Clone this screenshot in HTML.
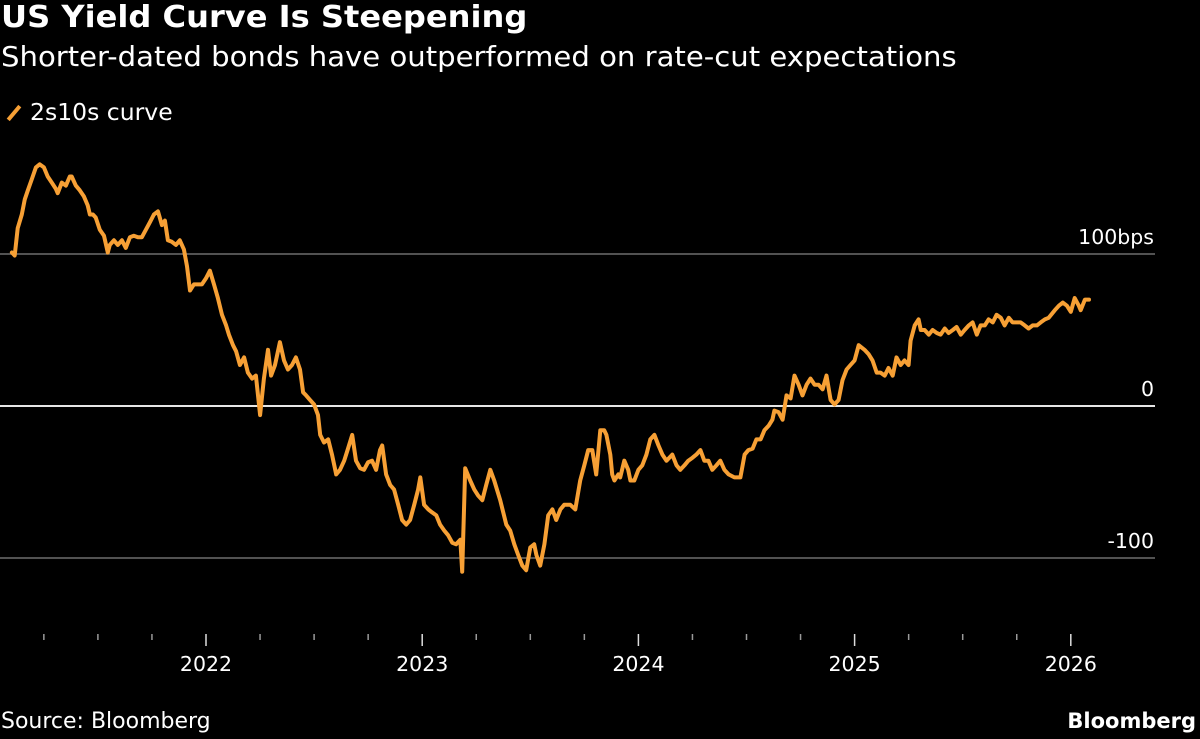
<!DOCTYPE html>
<html><head><meta charset="utf-8"><style>
html,body{margin:0;padding:0;background:#000;width:1200px;height:739px;overflow:hidden}
body{font-family:"DejaVu Sans","Liberation Sans",sans-serif;color:#fff;position:relative}
.t{position:absolute;white-space:nowrap;line-height:1}
</style></head><body>
<div class="t" style="left:1px;top:3px;font-size:30px;font-weight:bold;transform:scaleX(1.07);transform-origin:0 0">US Yield Curve Is Steepening</div>
<div class="t" style="left:1px;top:43px;font-size:28px;transform:scaleX(1.04);transform-origin:0 0">Shorter-dated bonds have outperformed on rate-cut expectations</div>
<div class="t" style="left:4px;top:101px;font-size:23.5px"><span style="display:inline-block;width:4px;height:18px;background:#f7a035;transform:rotate(40deg);margin:0 14px 0 8px;vertical-align:-2px"></span>2s10s curve</div>
<svg id="chart" width="1200" height="739" style="position:absolute;left:0;top:0"></svg>
<div class="t" style="left:1px;top:711px;font-size:22px">Source: Bloomberg</div>
<div class="t" style="right:4px;top:711px;font-size:21px;font-weight:bold">Bloomberg</div>
<script>
const dates=[2021.102,2021.115,2021.129,2021.148,2021.162,2021.176,2021.194,2021.213,2021.231,2021.250,2021.268,2021.287,2021.305,2021.314,2021.333,2021.352,2021.370,2021.379,2021.398,2021.416,2021.435,2021.453,2021.463,2021.477,2021.490,2021.509,2021.528,2021.546,2021.555,2021.574,2021.592,2021.611,2021.629,2021.648,2021.666,2021.685,2021.703,2021.722,2021.741,2021.759,2021.778,2021.796,2021.810,2021.824,2021.842,2021.861,2021.879,2021.898,2021.912,2021.926,2021.944,2021.963,2021.981,2022.000,2022.018,2022.037,2022.055,2022.074,2022.093,2022.106,2022.125,2022.139,2022.157,2022.176,2022.194,2022.213,2022.231,2022.250,2022.268,2022.287,2022.301,2022.319,2022.342,2022.361,2022.379,2022.398,2022.416,2022.435,2022.449,2022.463,2022.481,2022.500,2022.518,2022.528,2022.546,2022.565,2022.583,2022.602,2022.620,2022.639,2022.657,2022.676,2022.694,2022.713,2022.731,2022.750,2022.768,2022.787,2022.805,2022.815,2022.833,2022.852,2022.870,2022.889,2022.907,2022.926,2022.944,2022.963,2022.981,2022.991,2023.009,2023.028,2023.046,2023.065,2023.083,2023.102,2023.120,2023.139,2023.157,2023.176,2023.185,2023.199,2023.222,2023.241,2023.259,2023.278,2023.296,2023.315,2023.333,2023.361,2023.389,2023.407,2023.426,2023.444,2023.463,2023.481,2023.500,2023.518,2023.528,2023.546,2023.565,2023.583,2023.602,2023.620,2023.639,2023.657,2023.685,2023.708,2023.731,2023.750,2023.768,2023.787,2023.805,2023.824,2023.842,2023.852,2023.870,2023.879,2023.889,2023.907,2023.916,2023.935,2023.953,2023.963,2023.981,2024.000,2024.018,2024.037,2024.055,2024.074,2024.093,2024.111,2024.130,2024.157,2024.176,2024.194,2024.213,2024.231,2024.250,2024.268,2024.287,2024.305,2024.324,2024.342,2024.361,2024.379,2024.398,2024.417,2024.444,2024.472,2024.491,2024.509,2024.528,2024.546,2024.565,2024.583,2024.602,2024.620,2024.629,2024.648,2024.667,2024.685,2024.704,2024.722,2024.741,2024.759,2024.778,2024.796,2024.815,2024.833,2024.852,2024.870,2024.889,2024.907,2024.926,2024.944,2024.963,2024.981,2025.000,2025.019,2025.046,2025.065,2025.083,2025.102,2025.120,2025.139,2025.157,2025.176,2025.194,2025.213,2025.231,2025.250,2025.259,2025.278,2025.296,2025.306,2025.324,2025.343,2025.361,2025.380,2025.398,2025.417,2025.435,2025.454,2025.472,2025.491,2025.509,2025.528,2025.546,2025.565,2025.583,2025.602,2025.620,2025.639,2025.657,2025.676,2025.694,2025.713,2025.731,2025.750,2025.768,2025.787,2025.805,2025.824,2025.843,2025.861,2025.880,2025.898,2025.926,2025.945,2025.963,2025.982,2026.000,2026.018,2026.037,2026.046,2026.065,2026.084];
const spread=[101,99,117,126,136,142,149,157,159,157,151,147,143,140,147,145,151,151,145,142,138,132,126,126,124,116,112,101,106,109,106,109,104,111,112,111,111,116,121,126,128,119,122,109,108,106,109,103,92,76,80,80,80,84,89,80,71,60,53,47,40,36,27,32,22,18,20,-6,18,37,20,27,42,30,24,27,32,24,9,7,4,1,-6,-19,-24,-22,-32,-45,-42,-36,-28,-19,-36,-41,-42,-37,-36,-42,-29,-26,-45,-52,-55,-65,-75,-78,-75,-65,-55,-47,-65,-68,-70,-72,-78,-82,-85,-90,-91,-88,-109,-41,-49,-55,-59,-62,-52,-42,-49,-62,-78,-82,-91,-98,-105,-108,-93,-91,-98,-105,-91,-72,-68,-75,-68,-65,-65,-68,-49,-39,-29,-29,-45,-16,-16,-19,-32,-45,-49,-45,-47,-36,-42,-49,-49,-42,-39,-32,-22,-19,-26,-32,-36,-32,-39,-42,-39,-36,-34,-32,-29,-36,-36,-42,-39,-36,-42,-45,-47,-47,-32,-29,-28,-22,-22,-16,-13,-9,-3,-4,-9,7,5,20,14,7,14,18,14,14,11,20,4,1,4,17,24,27,30,40,37,34,30,22,22,20,25,20,32,27,30,27,43,53,57,50,50,47,50,48,47,51,48,50,52,47,50,53,55,47,53,53,57,55,60,58,53,58,55,55,55,53,51,53,53,55,57,58,63,66,68,66,62,71,66,63,70,70];
const yTicks=[100,0,-100];
const yTickLabels=["100bps","0","-100"];
const yearTicks=[2022,2023,2024,2025,2026];
const quarterTicks=[2021.25,2021.5,2021.75,2022.25,2022.5,2022.75,2023.25,2023.5,2023.75,2024.25,2024.5,2024.75,2025.25,2025.5,2025.75];
const X=t=>206+(t-2022)*216.2;
const Y=v=>406-v*1.52;
const svg=document.getElementById('chart');const NS='http://www.w3.org/2000/svg';
function mk(tag,attrs){const e=document.createElementNS(NS,tag);for(const k in attrs)e.setAttribute(k,attrs[k]);svg.appendChild(e);return e;}
yTicks.forEach((v,i)=>{
 const l=mk('line',{x1:0,x2:1155,y1:Y(v),y2:Y(v),stroke:v===0?'#e6e6e6':'#6e6e6e','stroke-width':v===0?2:1.5});
 
 
 const t=mk('text',{x:1154,y:Y(v)-10,'text-anchor':'end',fill:'#fff','font-size':20.5,'font-family':'DejaVu Sans, Liberation Sans, sans-serif'});
 t.textContent=yTickLabels[i];
 
 
});
quarterTicks.forEach(q=>{
 const l=mk('line',{x1:X(q),x2:X(q),y1:634,y2:640,stroke:'#999','stroke-width':1.5});
 
 
});
yearTicks.forEach(y=>{
 const l=mk('line',{x1:X(y),x2:X(y),y1:634,y2:646,stroke:'#ddd','stroke-width':1.5});
 
 
 const t=mk('text',{x:X(y),y:671,'text-anchor':'middle',fill:'#fff','font-size':20.5,'font-family':'DejaVu Sans, Liberation Sans, sans-serif'});
 t.textContent=String(y);
 
 
});
let d='';dates.forEach((t,i)=>{d+=(i?'L':'M')+X(t).toFixed(1)+','+Y(spread[i]).toFixed(1);});
const p=mk('path',{d:d,fill:'none',stroke:'#f7a035','stroke-width':4,'stroke-linejoin':'round','stroke-linecap':'round'});


</script>
</body></html>
